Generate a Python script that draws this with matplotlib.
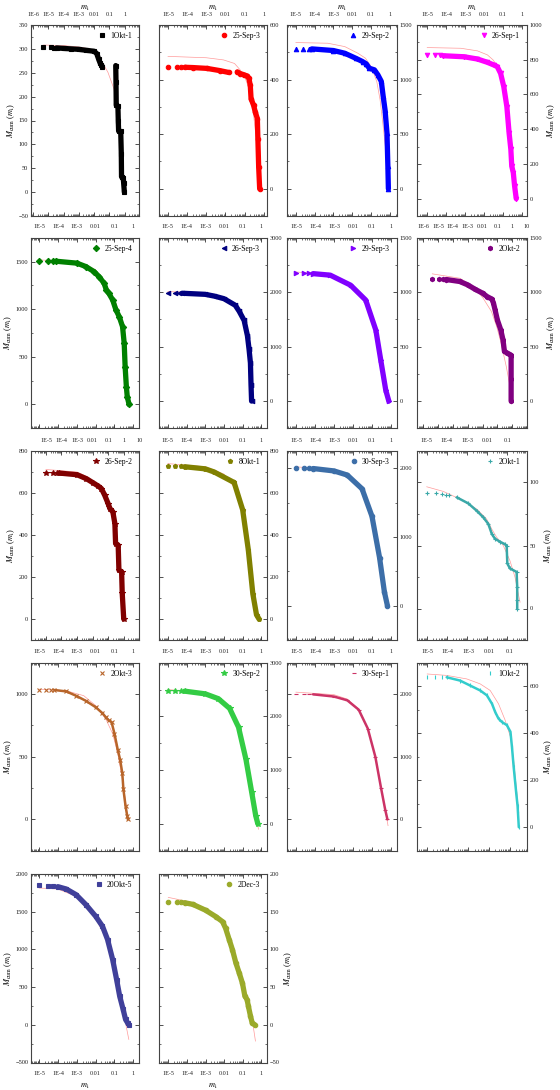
import numpy as np
import matplotlib
matplotlib.use("Agg")
import matplotlib.pyplot as plt
from matplotlib.ticker import FixedLocator, LogLocator, MultipleLocator, FuncFormatter, NullFormatter

plt.rcParams['font.family'] = ['Liberation Serif', 'DejaVu Serif']
plt.rcParams['mathtext.fontset'] = 'stix'

# ---- measured cumulative mass curves (m_i, M_cum) and fitted curves ----
m_1okt1 = [4.9e-6, 1.5e-5, 2.5e-5, 3.5e-5, 1e-4, 3e-4, 1e-3, 3e-3, 0.01, 0.015, 0.02, 0.025, 0.03, 0.035,
           0.26, 0.27, 0.28, 0.36, 0.38, 0.40, 0.55, 0.6, 0.62, 0.8, 0.85, 0.95]
M_1okt1 = [303, 303, 302, 302, 301, 300, 299, 297, 295, 290, 278, 270, 266, 263,
           265, 230, 182, 180, 150, 128, 127, 80, 32, 30, 20, 0]
fm_1okt1 = [5e-6, 1e-4, 1e-3, 0.005, 0.01, 0.03, 0.08, 0.2, 0.33, 0.55, 0.9, 1.1]
fM_1okt1 = [308, 307, 304, 300, 295, 275, 251, 216, 174, 104, 20, 0]

m_25sep3 = [1e-5, 2.8e-5, 5e-5, 7.6e-5, 2e-4, 1.07e-3, 5e-3, 0.015,
            0.042, 0.06, 0.09, 0.14, 0.17, 0.2, 0.22, 0.3, 0.37, 0.47, 0.5, 0.55, 0.62]
M_25sep3 = [446, 446, 446, 445, 444, 441, 433, 426,
            428, 422, 418, 413, 404, 379, 330, 305, 280, 257, 183, 80, 0]
fm_25sep3 = [1e-5, 1e-3, 0.008, 0.03, 0.06, 0.11, 0.2, 0.3, 0.47, 0.58]
fM_25sep3 = [485, 480, 472, 459, 435, 404, 355, 269, 145, 10]

m_29sep2 = [1e-5, 2.5e-5, 5e-5, 7e-5, 1e-3, 4e-3, 0.015, 0.035, 0.055, 0.08, 0.15, 0.23, 0.35, 0.44, 0.55, 0.7, 0.78, 0.83]
M_29sep2 = [1284, 1284, 1284, 1281, 1266, 1241, 1196, 1165, 1144, 1104, 1089, 1043, 983, 846, 724, 511, 207, 0]
fm_29sep2 = [1e-5, 5e-4, 4e-3, 0.02, 0.05, 0.1, 0.2, 0.3, 0.44, 0.65, 0.83]
fM_29sep2 = [1339, 1333, 1302, 1241, 1196, 1120, 983, 815, 572, 298, 0]

m_26sep1 = [1e-5, 2.6e-5, 4.7e-5, 7e-5, 9e-4, 4.5e-3, 0.015, 0.034, 0.05, 0.075, 0.11, 0.16, 0.21, 0.26, 0.29, 0.35, 0.41, 0.5]
M_26sep1 = [827, 827, 827, 823, 817, 804, 785, 769, 760, 721, 645, 530, 378, 283, 187, 149, 73, 0]
fm_26sep1 = [1e-5, 6e-4, 4.5e-3, 0.015, 0.03, 0.06, 0.12, 0.18, 0.26, 0.39, 0.5]
fM_26sep1 = [870, 866, 851, 828, 799, 751, 654, 521, 350, 159, 0]

m_25sep4 = [1e-5, 2.8e-5, 5.2e-5, 7.8e-5, 1e-3, 3e-3, 8e-3, 0.015, 0.028, 0.037, 0.05, 0.08, 0.12, 0.18, 0.27, 0.33, 0.37, 0.43, 0.48, 0.6]
M_25sep4 = [1507, 1507, 1507, 1503, 1483, 1447, 1395, 1342, 1272, 1202, 1167, 1097, 992, 921, 816, 641, 396, 186, 81, 0]
fm_25sep4 = [1e-5, 1e-3, 3e-3, 0.01, 0.023, 0.05, 0.12, 0.22, 0.33, 0.4, 0.49, 0.6]
fM_25sep4 = [1517, 1496, 1464, 1412, 1325, 1202, 1062, 887, 641, 396, 151, 0]

m_26sep3 = [1e-5, 2.3e-5, 4e-5, 6e-5, 1e-3, 3.1e-3, 0.01, 0.04, 0.065, 0.12, 0.18, 0.22, 0.26, 0.28, 0.3]
M_26sep3 = [1982, 1982, 1982, 1980, 1960, 1927, 1880, 1760, 1650, 1480, 1200, 950, 700, 300, 0]
fm_26sep3 = [1e-5, 1e-3, 0.01, 0.04, 0.1, 0.18, 0.24, 0.3, 0.36]
fM_26sep3 = [2010, 1990, 1900, 1750, 1480, 1100, 750, 300, 0]

m_29sep3 = [1e-5, 2.5e-5, 5e-5, 8e-5, 6.4e-4, 7.5e-3, 0.047, 0.16, 0.29, 0.53, 0.77]
M_29sep3 = [1174, 1174, 1174, 1170, 1156, 1064, 927, 651, 376, 101, 0]
fm_29sep3 = [1e-5, 6.4e-4, 7.5e-3, 0.047, 0.16, 0.29, 0.53, 0.77]
fM_29sep3 = [1185, 1165, 1070, 920, 650, 380, 100, 0]

m_2okt2 = [4.1e-6, 1.2e-5, 2.2e-5, 3.6e-5, 2.9e-4, 1e-3, 3e-3, 0.01, 0.02, 0.043, 0.055, 0.07, 0.1, 0.17, 0.24, 0.3, 0.46, 0.78, 0.85, 0.85, 0.85]
M_2okt2 = [1119, 1119, 1119, 1116, 1098, 1067, 1028, 991, 960, 936, 899, 838, 746, 654, 562, 457, 441, 424, 410, 200, 0]
fm_2okt2 = [4.1e-6, 2.9e-4, 2.4e-3, 0.011, 0.04, 0.09, 0.18, 0.4, 0.72, 0.85]
fM_2okt2 = [1168, 1128, 1052, 945, 822, 685, 531, 317, 132, 0]

m_26sep2 = [1e-5, 2.7e-5, 5e-5, 7e-5, 1e-3, 4e-3, 0.011, 0.023, 0.037, 0.06, 0.1, 0.13, 0.2, 0.27, 0.3, 0.44, 0.49, 0.73, 0.8, 1.0]
M_26sep2 = [697, 697, 697, 695, 687, 668, 648, 633, 621, 589, 549, 526, 510, 454, 359, 351, 233, 225, 122, 0]
fm_26sep2 = [1e-5, 1e-3, 5e-3, 0.03, 0.08, 0.2, 0.43, 0.73, 1.0]
fM_26sep2 = [712, 700, 676, 629, 581, 470, 311, 152, -5]

m_8okt1 = [1e-5, 2.5e-5, 5e-5, 8e-5, 1e-3, 3e-3, 0.035, 0.1, 0.2, 0.35, 0.55, 0.75]
M_8okt1 = [727, 727, 727, 725, 715, 700, 650, 520, 330, 120, 20, 0]
fm_8okt1 = [1e-5, 1e-3, 0.01, 0.05, 0.15, 0.3, 0.5, 0.75]
fM_8okt1 = [740, 725, 690, 610, 430, 220, 70, 0]

m_30sep3 = [1e-5, 2.5e-5, 5e-5, 8e-5, 1e-3, 5e-3, 0.03, 0.1, 0.25, 0.45, 0.65]
M_30sep3 = [2000, 2000, 2000, 1995, 1960, 1900, 1700, 1300, 700, 200, 0]
fm_30sep3 = [1e-5, 1e-3, 5e-3, 0.03, 0.1, 0.25, 0.45, 0.65]
fM_30sep3 = [2020, 1980, 1910, 1700, 1300, 700, 200, 0]

m_2okt1 = [1e-5, 2.9e-5, 5.5e-5, 9.1e-5, 1.3e-4, 3.1e-4, 1.16e-3, 3e-3, 6.4e-3, 0.0114, 0.017, 0.024, 0.044, 0.077, 0.093,
           0.1, 0.135, 0.29, 0.31, 0.31, 0.31]
M_2okt1 = [91.3, 91.3, 90.8, 90.3, 89.7, 88.2, 83.4, 77.6, 72.4, 67.1, 59.2, 55.5, 52.9, 51, 49.5,
           35.8, 31.8, 29, 17, 6.6, 0]
fm_2okt1 = [1e-5, 6.7e-5, 4.5e-4, 3e-3, 9.4e-3, 0.017, 0.029, 0.063, 0.135, 0.24, 0.35, 0.43]
fM_2okt1 = [96.6, 92.9, 86.8, 79, 71, 63, 56.8, 50, 38, 25, 11.8, 5]

m_2okt3 = [1e-5, 2.3e-5, 4.2e-5, 6.4e-5, 2.7e-4, 8.8e-4, 2.9e-3, 0.01, 0.023, 0.034, 0.05, 0.07, 0.1, 0.15, 0.2, 0.26, 0.3, 0.39, 0.48, 0.52]
M_2okt3 = [1034, 1034, 1034, 1032, 1021, 987, 947, 895, 847, 816, 789, 776, 684, 555, 476, 371, 239, 105, 26, 0]
fm_2okt3 = [1e-5, 2.7e-4, 2.3e-3, 0.01, 0.034, 0.08, 0.15, 0.27, 0.42, 0.52]
fM_2okt3 = [1039, 1026, 987, 908, 803, 684, 526, 316, 105, 0]

m_30sep2 = [1e-5, 2.5e-5, 5e-5, 8e-5, 1e-3, 5e-3, 0.02, 0.06, 0.15, 0.3, 0.5, 0.65]
M_30sep2 = [2480, 2480, 2480, 2470, 2420, 2330, 2150, 1800, 1200, 600, 150, 0]
fm_30sep2 = [1e-5, 1e-3, 5e-3, 0.02, 0.06, 0.15, 0.3, 0.5, 0.7]
fM_30sep2 = [2500, 2440, 2340, 2150, 1800, 1200, 600, 150, -100]

m_30sep1 = [1e-5, 2.5e-5, 5e-5, 8e-5, 1e-3, 5e-3, 0.02, 0.06, 0.15, 0.3, 0.5, 0.65]
M_30sep1 = [2000, 2000, 2000, 1995, 1960, 1900, 1750, 1450, 1000, 500, 150, 0]
fm_30sep1 = [1e-5, 1e-3, 5e-3, 0.02, 0.06, 0.15, 0.3, 0.5, 0.7]
fM_30sep1 = [2030, 1990, 1920, 1760, 1450, 1000, 500, 150, -100]

m_1okt2 = [1e-5, 2.4e-5, 5e-5, 8.8e-5, 3.9e-4, 1.2e-3, 3.7e-3, 7.9e-3, 0.014, 0.02, 0.029, 0.042, 0.074, 0.11, 0.13, 0.157, 0.21, 0.245, 0.28]
M_1okt2 = [641, 641, 640, 638, 624, 603, 582, 561, 525, 490, 462, 448, 434, 406, 342, 258, 145, 89, 0]
fm_1okt2 = [1e-5, 8.8e-5, 8.3e-4, 3.7e-3, 0.0114, 0.029, 0.061, 0.11, 0.157, 0.21, 0.28]
fM_1okt2 = [652, 646, 631, 610, 582, 525, 455, 384, 286, 173, 61]

m_20okt5 = [1e-5, 2.8e-5, 5.2e-5, 9.6e-5, 2.7e-4, 9e-4, 3e-3, 0.01, 0.023, 0.043, 0.08, 0.13, 0.19, 0.29, 0.39, 0.52, 0.6]
M_20okt5 = [1850, 1845, 1841, 1832, 1801, 1726, 1594, 1439, 1307, 1130, 866, 600, 379, 203, 71, 18, 0]
fm_20okt5 = [1e-5, 9.6e-5, 9e-4, 0.01, 0.05, 0.13, 0.29, 0.42, 0.58]
fM_20okt5 = [1814, 1801, 1704, 1417, 1064, 688, 203, -18, -194]

m_2dec3 = [1e-5, 2.8e-5, 5e-5, 7.6e-5, 2.1e-4, 1e-3, 3.6e-3, 8.2e-3, 0.012, 0.019, 0.028, 0.043, 0.065, 0.096, 0.13, 0.17, 0.2, 0.26, 0.32, 0.44]
M_2dec3 = [163.2, 163, 162.3, 161.9, 159.7, 152, 143.4, 136.8, 128, 112.4, 99.4, 81.7, 68.5, 55.2, 38, 33.5, 24.7, 11.5, 2.6, 0]
fm_2dec3 = [1e-5, 1.4e-4, 1.08e-3, 5.5e-3, 0.0185, 0.063, 0.14, 0.32, 0.48]
fM_2dec3 = [169, 163, 154.5, 139, 115, 77.6, 42, 7, -21.6]

# ---- panel layout and styling ----
panels = [
    # label, m, M, fit m, fit M, marker, colour, xlim, ylim, y major, n isolated, line break index
    ('1Okt-1', m_1okt1, M_1okt1, fm_1okt1, fM_1okt1, 's', 'black', (7.5e-7, 9), (-50, 350), 50, 3, 14),
    ('25-Sep-3', m_25sep3, M_25sep3, fm_25sep3, fM_25sep3, 'o', '#FF0000', (3.5e-6, 1.5), (-100, 600), 200, 3, 8),
    ('29-Sep-2', m_29sep2, M_29sep2, fm_29sep2, fM_29sep2, '^', '#0000FF', (3.5e-6, 2.3), (-250, 1500), 500, 3, None),
    ('26-Sep-1', m_26sep1, M_26sep1, fm_26sep1, fM_26sep1, 'v', '#FF00FF', (3e-6, 1.85), (-100, 1000), 200, 3, None),
    ('25-Sep-4', m_25sep4, M_25sep4, fm_25sep4, fM_25sep4, 'D', '#008000', (3.6e-6, 2.1), (-250, 1750), 500, 3, None),
    ('26-Sep-3', m_26sep3, M_26sep3, fm_26sep3, fM_26sep3, '<', '#000080', (3.5e-6, 2.0), (-500, 3000), 1000, 3, None),
    ('29-Sep-3', m_29sep3, M_29sep3, fm_29sep3, fM_29sep3, '>', '#8000FF', (3.5e-6, 2.0), (-250, 1500), 500, 3, None),
    ('2Okt-2', m_2okt2, M_2okt2, fm_2okt2, fM_2okt2, 'h', '#800080', (4e-7, 10), (-250, 1500), 500, 3, None),
    ('26-Sep-2', m_26sep2, M_26sep2, fm_26sep2, fM_26sep2, '*', '#800000', (1.1e-6, 10), (-100, 800), 200, 3, None),
    ('8Okt-1', m_8okt1, M_8okt1, fm_8okt1, fM_8okt1, 'p', '#808000', (3.5e-6, 2.0), (-100, 800), 200, 3, None),
    ('30-Sep-3', m_30sep3, M_30sep3, fm_30sep3, fM_30sep3, 'o', '#3C6EA8', (3.5e-6, 2.0), (-500, 2250), 1000, 3, None),
    ('2Okt-1', m_2okt1, M_2okt1, fm_2okt1, fM_2okt1, '+', '#3AA8A8', (3.4e-6, 0.95), (-25, 125), 50, 5, None),
    ('2Okt-3', m_2okt3, M_2okt3, fm_2okt3, fM_2okt3, 'x', '#B8652A', (3.6e-6, 2.1), (-250, 1250), 500, 3, None),
    ('30-Sep-2', m_30sep2, M_30sep2, fm_30sep2, fM_30sep2, '*', '#33CC44', (3.5e-6, 2.0), (-500, 3000), 1000, 3, None),
    ('30-Sep-1', m_30sep1, M_30sep1, fm_30sep1, fM_30sep1, '_', '#CC3366', (3.5e-6, 2.0), (-500, 2500), 1000, 3, None),
    ('1Okt-2', m_1okt2, M_1okt2, fm_1okt2, fM_1okt2, '|', '#33CCCC', (3.3e-6, 0.7), (-100, 700), 200, 3, None),
    ('20Okt-5', m_20okt5, M_20okt5, fm_20okt5, fM_20okt5, 's', '#40409A', (3.6e-6, 2.1), (-500, 2000), 500, 3, None),
    ('2Dec-3', m_2dec3, M_2dec3, fm_2dec3, fM_2dec3, 'o', '#9AAA2A', (3.3e-6, 2.0), (-50, 200), 50, 3, None),
]

W, H = 560, 1090
col_px = [(31, 139.3), (159.3, 267), (287.3, 396.7), (417.3, 527)]
row_px = [(25, 216), (237.7, 428.3), (451, 640), (662.7, 850.7), (874, 1062.5)]


def xfmt(v, pos):
    e = int(round(np.log10(v)))
    if e <= -3:
        return f"1E{e}"
    if e < 0:
        return f"{10.0 ** e:g}"
    return f"{int(10 ** e)}"


fig = plt.figure(figsize=(W / 100, H / 100), dpi=100)
ylab = r'$M_{\rm cum}$ ($m_{\rm i}$)'

for k, (name, m, M, fm, fM, mk, col, xl, yl, ymaj, nsp, brk) in enumerate(panels):
    r, c = divmod(k, 4)
    x0, x1 = col_px[c]
    y0, y1 = row_px[r]
    ax = fig.add_axes([x0 / W, 1 - y1 / H, (x1 - x0) / W, (y1 - y0) / H])
    ax.set_xscale('log')

    ax.plot(fm, fM, color='#FF9A9A', lw=0.5, zorder=1)
    m = np.asarray(m, float)
    M = np.asarray(M, float)
    thin = mk in ('+', 'x', '|', '_')
    lw = 1.8 if thin else 3.8
    if brk is None:
        segs = [(nsp, len(m))]
    else:
        segs = [(nsp, brk), (brk, len(m))]
    for a, b in segs:
        ax.plot(m[a:b], M[a:b], '-', color=col, lw=lw, solid_capstyle='round',
                solid_joinstyle='round', zorder=2)
    ms = 3.2 if mk not in ('*',) else 4.2
    ax.plot(m, M, mk, color=col, ms=ms, mew=0.8, ls='none', zorder=3, label=name)

    ax.set_xlim(*xl)
    ax.set_ylim(*yl)
    decades = 10.0 ** np.arange(np.ceil(np.log10(xl[0])), np.floor(np.log10(xl[1])) + 1)
    ax.xaxis.set_major_locator(FixedLocator(decades))
    ax.xaxis.set_minor_locator(LogLocator(base=10, subs=np.arange(2, 10), numticks=20))
    ax.xaxis.set_major_formatter(FuncFormatter(xfmt))
    ax.xaxis.set_minor_formatter(NullFormatter())
    ax.yaxis.set_major_locator(MultipleLocator(ymaj))
    ax.yaxis.set_minor_locator(MultipleLocator(ymaj / 2))

    last_row = r == 4
    ax.tick_params(axis='x', which='both', direction='in', top=True, bottom=True,
                   labeltop=not last_row, labelbottom=last_row, labelsize=4.4, pad=6, colors='#333333')
    ax.tick_params(axis='x', which='major', length=3, width=0.6)
    ax.tick_params(axis='x', which='minor', length=1.5, width=0.5)
    left_lab = c == 0
    ax.tick_params(axis='y', which='both', direction='in', left=True, right=True,
                   labelleft=left_lab, labelright=not left_lab, labelsize=4.6, pad=2, colors='#333333')
    ax.tick_params(axis='y', which='major', length=3, width=0.6)
    ax.tick_params(axis='y', which='minor', length=1.5, width=0.5)
    for s in ax.spines.values():
        s.set_color('#444444')
        s.set_linewidth(0.8)
    ax.tick_params(labelcolor='#222222')

    if left_lab:
        ax.set_ylabel(ylab, fontsize=6, labelpad=1)
    elif c == 3 or (r == 4 and c == 1):
        ax.yaxis.set_label_position('right')
        ax.set_ylabel(ylab, fontsize=6, labelpad=2)
    if r == 0:
        ax.xaxis.set_label_position('top')
        ax.set_xlabel(r'$m_{\rm i}$', fontsize=6, labelpad=1)
    if last_row:
        ax.set_xlabel(r'$m_{\rm i}$', fontsize=6, labelpad=4)

    ax.legend(loc='upper right', frameon=False, fontsize=5.5, handlelength=1.0,
              handletextpad=0.6, borderaxespad=0.5, markerscale=1.0)

fig.savefig('out.png', dpi=100)
